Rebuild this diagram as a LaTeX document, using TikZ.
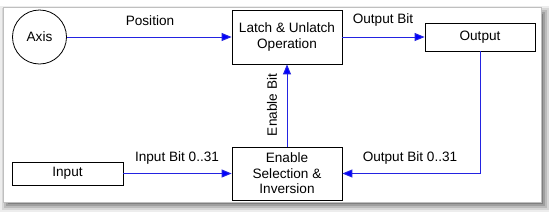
\documentclass[tikz,border=0pt]{standalone}
\usepackage{fontspec}
\setmainfont{Liberation Sans}
\usetikzlibrary{arrows.meta,positioning,calc}

\definecolor{sigblue}{RGB}{35,35,225}

\begin{document}
\begin{tikzpicture}[x=1pt,y=-1pt,
    font=\fontsize{13.6}{15.4}\selectfont,
    block/.style={draw=black, line width=0.8pt, fill=white, align=center, inner sep=0pt},
    sig/.style={draw=sigblue, line width=1pt, -{Triangle[length=10pt,width=8pt,fill=blue]}},
    lbl/.style={inner sep=0pt}]
  \useasboundingbox (0,0) rectangle (549,215);
  \fill[white] (0,0) rectangle (549,215);

  % Drop shadow
  \foreach \d/\o in {10/0.07,8/0.09,6/0.12,4/0.15,2/0.2,0/0.25}
    \fill[black, opacity=\o] ($(3,7)+(7-\d,9-\d)$) rectangle ($(541,202)+(\d,\d)$);

  % Panel
  \filldraw[fill=white, draw=gray!50, line width=0.5pt] (3,7) rectangle (541,202);

  % Blocks
  \node[block, circle, minimum size=54pt] (axis) at (39.5,37) {Axis};
  \node[block, minimum width=110pt, minimum height=54pt] (latch) at (287,37) {Latch \& Unlatch\\Operation};
  \node[block, minimum width=110pt, minimum height=28pt] (output) at (480,37) {Output};
  \node[block, minimum width=111pt, minimum height=23pt] (input) at (67.5,173.5) {Input};
  \node[block, minimum width=110pt, minimum height=53pt] (enable) at (287,173.5) {Enable\\Selection \&\\Inversion};

  % Connections
  \draw[sig] (axis.east) -- (latch.west);
  \draw[sig] (latch.east) -- (output.west);
  \draw[sig] (output.south) |- (enable.east);
  \draw[sig] (input.east) -- (enable.west);
  \draw[sig] (enable.north) -- (latch.south);

  % Labels
  \node[lbl] (poslbl) at (150,21) {Position};
  \node[lbl] (outbitlbl) at (383,20) {Output Bit};
  \node[lbl] (outbitslbl) at (410,158) {Output Bit 0..31};
  \node[lbl] (inbitslbl) at (177,158) {Input Bit 0..31};
  \node[lbl, rotate=90] (enbitlbl) at (272,105) {Enable Bit};
\end{tikzpicture}
\end{document}
